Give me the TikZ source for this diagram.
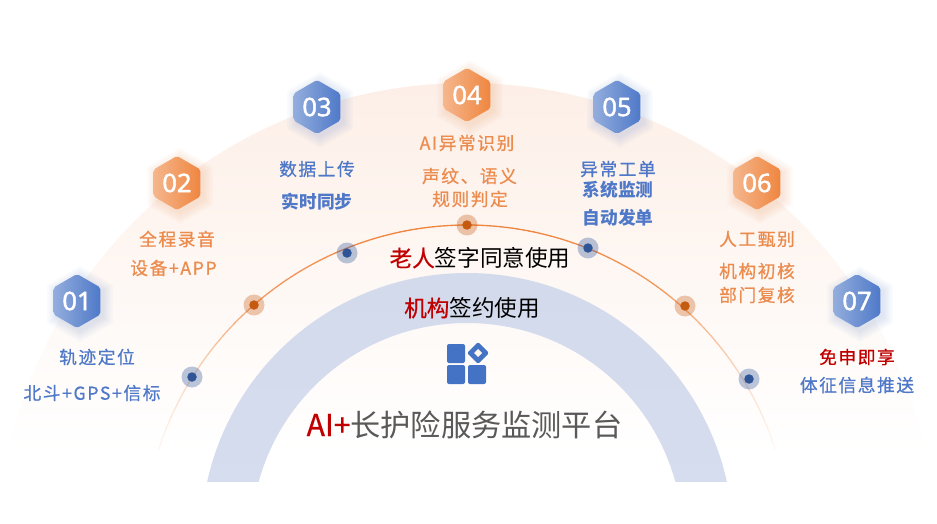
\documentclass[tikz,border=0pt]{standalone}
\usepackage{fontspec}
\usetikzlibrary{shapes.geometric,calc}
\setmainfont{Noto Sans CJK SC}
\newfontfamily\medCJK{Noto Sans CJK SC}[FakeBold=0.6]
\newfontfamily\numfont{Noto Sans}[FakeBold=1.6]
\newfontfamily\wideCJK{Noto Sans CJK SC}[LetterSpace=9,FakeBold=0.7]
\definecolor{blueA}{HTML}{93ADDD}
\definecolor{blueB}{HTML}{4F79C8}
\definecolor{orgA}{HTML}{F5B68C}
\definecolor{orgB}{HTML}{EF8640}
\definecolor{shadblue}{HTML}{4472C4}
\definecolor{shadorg}{HTML}{ED7D31}
\definecolor{txtblue}{HTML}{4F78C8}
\definecolor{txtorg}{HTML}{EC8B4E}
\definecolor{dkred}{HTML}{C00000}
\definecolor{dotblue}{HTML}{2F5597}
\definecolor{dotorg}{HTML}{C55A11}
\definecolor{archtop}{HTML}{FDEFE7}
\definecolor{bandtop}{HTML}{D3DAEB}
\definecolor{bandbot}{HTML}{D8E1F3}
\definecolor{arcbg}{HTML}{FFF8F4}
\tikzset{
  hexbase/.style={regular polygon,regular polygon sides=6,shape border rotate=30,minimum size=54pt,inner sep=0pt,rounded corners=2pt,text=white,font=\numfont\fontsize{25.5}{25}\selectfont,shading=axis,shading angle=135},
  hexblue/.style={hexbase,left color=blueA,right color=blueB},
  hexorg/.style={hexbase,left color=orgA,right color=orgB},
  lblue/.style={text=txtblue,inner sep=0pt,font=\wideCJK\fontsize{17.7}{20}\selectfont},
  lorg/.style={text=txtorg,inner sep=0pt,font=\wideCJK\fontsize{17.7}{20}\selectfont},
  lblueb/.style={text=txtblue,inner sep=0pt,font=\bfseries\fontsize{17.7}{20}\selectfont},
  haloblue/.style={circle,minimum size=21pt,inner sep=0pt,fill=dotblue,fill opacity=0.33},
  haloorg/.style={circle,minimum size=21pt,inner sep=0pt,fill=dotorg,fill opacity=0.33},
  dotb/.style={circle,minimum size=9.5pt,inner sep=0pt,fill=dotblue},
  doto/.style={circle,minimum size=9.5pt,inner sep=0pt,fill=dotorg},
  midlabel/.style={inner sep=0pt,text=black,font=\fontsize{22.6}{24}\selectfont},
  iconsq/.style={fill=shadblue,rounded corners=2pt}
}
\newcommand{\hexshadow}[3]{%
  \foreach \r in {28,30,...,38}{
    \fill[#3,fill opacity=0.028] ($(#1,#2)+(3,3)$) +(30:\r pt) -- +(90:\r pt) -- +(150:\r pt) -- +(210:\r pt) -- +(270:\r pt) -- +(330:\r pt) -- cycle;
  }}
\begin{document}
\begin{tikzpicture}[x=1pt,y=-1pt]
\useasboundingbox (0,0) rectangle (937,524);
\fill[white] (0,0) rectangle (937,524);
% pale arch
\begin{scope}
  \clip (467,552) circle[radius=469pt];
  \shade[top color=archtop,bottom color=white] (0,83) rectangle (937,452);
\end{scope}
% blue band
\begin{scope}
  \clip (0,0) rectangle (937,481);
  \shade[even odd rule,top color=bandtop,bottom color=bandbot] (467,539) circle[radius=266pt] (467,539) circle[radius=216pt];
\end{scope}
% orange arc
\foreach \a in {18,19,...,161}{
  \pgfmathsetmacro{\fa}{min(\a-18,162-\a)}
  \pgfmathsetmacro{\p}{min(100,100*\fa/34)}
  \pgfmathsetmacro{\q}{\p*(0.6+0.4*min(1,\fa/60))}
  \draw[line width=1.3pt,line cap=round,color=orgB!\q!arcbg] ({467+324*cos(\a)},{549-324*sin(\a)}) -- ({467+324*cos(\a+1)},{549-324*sin(\a+1)});
}
% dots
\foreach \n/\x/\y/\s/\t in {a/192/377/haloblue/dotb,b/254/305/haloorg/doto,c/347/253/haloblue/dotb,d/467/225/haloorg/doto,e/588/248/haloblue/dotb,f/685/306/haloorg/doto,g/749/379/haloblue/dotb}{
  \node[\s] (halo\n) at (\x,\y) {};
  \node[\t] (dot\n) at (\x,\y) {};
}
% hexagons
\hexshadow{77}{301}{shadblue}
\hexshadow{177}{183}{shadorg}
\hexshadow{317}{107}{shadblue}
\hexshadow{467}{95}{shadorg}
\hexshadow{617}{107}{shadblue}
\hexshadow{757}{183}{shadorg}
\hexshadow{857}{301}{shadblue}
\node[hexblue] (h1) at (77,301) {01};
\node[hexorg]  (h2) at (177,183) {02};
\node[hexblue] (h3) at (317,107) {03};
\node[hexorg]  (h4) at (467,95) {04};
\node[hexblue] (h5) at (617,107) {05};
\node[hexorg]  (h6) at (757,183) {06};
\node[hexblue] (h7) at (857,301) {07};
% labels
\node[lblue] (t1a) at (97,357) {轨迹定位};
\node[lblue] (t1b) at (92,393) {北斗+GPS+信标};
\node[lorg] (t2a) at (177,239) {全程录音};
\node[lorg] (t2b) at (173.5,268) {设备+APP};
\node[lblue] (t3a) at (317,169) {数据上传};
\node[lblueb] (t3b) at (317,202) {实时同步};
\node[lorg] (t4a) at (467,143) {AI异常识别};
\node[lorg] (t4b) at (469.5,176) {声纹、语义};
\node[lorg] (t4c) at (470,199) {规则判定};
\node[lblue] (t5a) at (618,169) {异常工单};
\node[lblueb] (t5b) at (618,190) {系统监测};
\node[lblueb] (t5c) at (618,218) {自动发单};
\node[lorg] (t6a) at (757,239) {人工甄别};
\node[lorg] (t6b) at (757,271) {机构初核};
\node[lorg] (t6c) at (757,295) {部门复核};
\node[lblue] (t7a) at (857,357) {\textcolor{dkred}{免申即享}};
\node[lblue] (t7b) at (857,385) {体征信息推送};
\node[midlabel] (m1) at (480,258) {\textcolor{dkred}{\medCJK 老人}签字同意使用};
\node[midlabel] (m2) at (472,308) {\textcolor{dkred}{\medCJK 机构}签约使用};
% icon
\fill[iconsq] (447,344) rectangle (465,363);
\fill[iconsq] (447,365) rectangle (465,384);
\fill[iconsq] (468,365) rectangle (486,384);
\fill[shadblue,rounded corners=2pt] (478,342) -- (489,353) -- (478,364) -- (467,353) -- cycle;
\fill[white!92!orange] (478,349) -- (482,353) -- (478,357) -- (474,353) -- cycle;
% title
\node[inner sep=0pt,text=black!65,font=\fontsize{30.2}{32}\selectfont] (title) at (464.5,424.5) {\textcolor{dkred}{\medCJK AI+}长护险服务监测平台};
\end{tikzpicture}
\end{document}
